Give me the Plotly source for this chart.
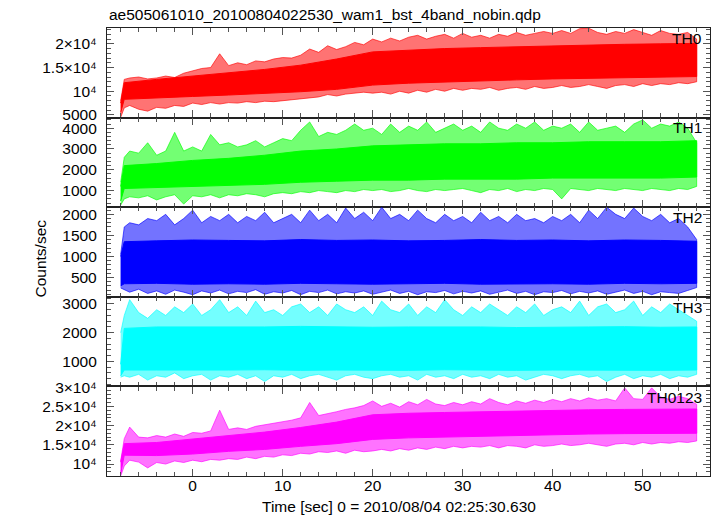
import plotly.graph_objects as go
from plotly.subplots import make_subplots

# ---------------- data ----------------
title = "ae505061010_20100804022530_wam1_bst_4band_nobin.qdp"
band_names = ["TH0", "TH1", "TH2", "TH3", "TH0123"]
band_colors = ["#ff0000", "#00ff00", "#0000ff", "#00ffff", "#ff00ff"]

# sample times (sec) for the dense core of each light curve
t_core = [-8, -7.6, -4, 0, 4, 8, 12, 16, 20, 24, 28, 32, 36, 40, 44, 48, 52, 56]
# sample times (sec) for the spike envelope
t_edge = [-8, -7.6] + list(range(-7, 57))

th0_core_lo = [5500, 8300, 8600, 8900, 9200, 9500, 9900, 10400, 11300, 11700, 12000, 12200, 12400, 12600, 12800, 12900, 13000, 13100]
th0_core_hi = [7500, 11800, 12500, 13200, 13900, 14600, 15500, 16800, 18300, 18700, 19000, 19200, 19400, 19600, 19800, 19900, 20000, 20100]
th0_edge_hi = [8000, 12500, 12800, 13000, 12600, 12800, 13200, 12900, 13800, 14300, 14800, 15000, 17900, 15400, 16000, 15600,
               16400, 16200, 16800, 17100, 17000, 17600, 18900, 18200, 19600, 18800, 19400, 20300, 19800, 21000, 20400, 21200,
               20600, 21400, 21800, 21000, 21600, 22000, 21200, 22200, 21400, 21800, 21200, 22000, 21600, 22400, 21800, 22200,
               22600, 22200, 22800, 22200, 23200, 23300, 22400, 22000, 22600, 22200, 23000, 22400, 21800, 22800, 22200, 22000,
               22400, 21000]
th0_edge_lo = [4500, 6500, 7000, 6200, 5800, 6600, 6400, 7000, 6800, 7500, 7200, 7600, 7300, 7600, 7500, 7800,
               7600, 7900, 7800, 7900, 8200, 8400, 8600, 8800, 9300, 9000, 9400, 9600, 9800, 9600, 9800, 9400,
               10000, 9600, 10200, 9800, 10400, 10000, 10600, 10200, 10600, 10400, 10800, 10200, 10600, 10800, 10400, 11000,
               10600, 10800, 11200, 10800, 11000, 11400, 11000, 10600, 11200, 11400, 11000, 11600, 11200, 11600, 11400, 11800,
               11600, 12000]

th1_core_lo = [500, 1100, 1150, 1200, 1250, 1300, 1400, 1450, 1500, 1500, 1550, 1550, 1550, 1600, 1600, 1600, 1600, 1650]
th1_core_hi = [1200, 2200, 2300, 2450, 2550, 2700, 2900, 3000, 3150, 3200, 3250, 3250, 3300, 3300, 3350, 3350, 3350, 3400]
th1_edge_hi = [1400, 2600, 2900, 2800, 3300, 2700, 2900, 3800, 2900, 3100, 2900, 3700, 3200, 3300, 3100, 3200,
               3400, 3100, 3300, 3500, 3400, 3900, 4300, 3600, 3800, 3700, 3900, 4200, 3900, 4000, 3700, 4200,
               3800, 4100, 3900, 4300, 3800, 4000, 4200, 3900, 4100, 3800, 4300, 4000, 3900, 4200, 4000, 4300,
               3900, 4100, 4000, 4200, 3800, 4300, 3900, 4000, 4100, 3800, 4200, 4400, 4000, 4200, 4100, 4300,
               4000, 3300]
th1_edge_lo = [300, 600, 700, 650, 750, 550, 700, 800, 350, 750, 700, 800, 650, 800, 750, 850,
               800, 700, 850, 900, 850, 950, 900, 1000, 950, 900, 1000, 950, 1050, 1000, 1050, 950,
               1000, 1100, 1000, 950, 1050, 1000, 1050, 1100, 1000, 900, 1050, 1000, 1100, 950, 1050, 1000,
               1100, 1050, 600, 1100, 1050, 1000, 1100, 1050, 1000, 1100, 1050, 1000, 1100, 1050, 1000, 1100,
               1050, 1200]

th2_core_lo = [300, 350, 360, 340, 350, 340, 360, 350, 340, 350, 360, 340, 350, 350, 340, 360, 350, 360]
th2_core_hi = [1000, 1350, 1370, 1390, 1380, 1370, 1400, 1380, 1390, 1370, 1380, 1400, 1380, 1390, 1370, 1390, 1380, 1360]
th2_edge_hi = [1050, 1700, 1800, 1750, 1900, 1850, 2000, 1750, 1900, 2100, 1800, 1950, 1850, 2000, 1800, 1950,
               1850, 2050, 1800, 1900, 2000, 1800, 2100, 1850, 2000, 1800, 2150, 1900, 2050, 1850, 2170, 1900,
               2000, 1850, 2100, 1900, 1800, 2000, 1850, 1950, 1800, 2050, 1850, 1950, 1800, 2000, 1850, 1900,
               1800, 1950, 1850, 2000, 1800, 2100, 1900, 2170, 2000, 1900, 2150, 1950, 1850, 2000, 1800, 1900,
               1700, 1400]
th2_edge_lo = [250, 200, 150, 220, 120, 180, 100, 200, 150, 90, 180, 130, 200, 110, 170, 140,
               210, 100, 160, 130, 190, 90, 170, 140, 200, 110, 160, 130, 180, 100, 150, 200,
               120, 170, 90, 160, 140, 190, 110, 170, 130, 180, 100, 150, 200, 120, 170, 90,
               160, 140, 190, 110, 170, 130, 180, 100, 150, 200, 120, 170, 90, 160, 140, 120,
               190, 260]

th3_core_lo = [500, 700, 700, 690, 700, 710, 690, 700, 700, 690, 710, 700, 690, 700, 710, 700, 690, 700]
th3_core_hi = [900, 2150, 2200, 2200, 2180, 2200, 2220, 2200, 2190, 2200, 2210, 2200, 2180, 2200, 2200, 2210, 2190, 2200]
th3_edge_hi = [2000, 2600, 3150, 2700, 2500, 2800, 2600, 2900, 2700, 3000, 2600, 2800, 3150, 2700, 2900, 2600,
               3100, 2700, 2800, 2600, 2900, 3000, 2700, 2900, 2600, 3000, 2800, 2700, 2900, 2600, 3100, 2800,
               2700, 3000, 2600, 2900, 2700, 3150, 2800, 2600, 2900, 2700, 3000, 2800, 2600, 2900, 2700, 3000,
               2600, 2800, 2900, 2700, 3100, 2600, 2900, 3000, 2700, 2800, 3100, 2600, 2900, 2700, 3000, 2800,
               2600, 2400]
th3_edge_lo = [450, 500, 450, 550, 350, 500, 450, 600, 400, 500, 550, 350, 500, 450, 550, 400,
               500, 300, 500, 450, 550, 400, 500, 550, 450, 350, 500, 550, 450, 400, 500, 550,
               450, 500, 350, 550, 450, 500, 400, 550, 450, 500, 400, 550, 450, 500, 350, 450,
               550, 500, 400, 500, 550, 450, 500, 300, 450, 550, 400, 500, 450, 550, 400, 500,
               450, 550]

th0123_core_lo = [7500, 12300, 12200, 12600, 13300, 13800, 14600, 15300, 16400, 16800, 17000, 17200, 17400, 17600, 17800, 17900, 18000, 18000]
th0123_core_hi = [10500, 15300, 15600, 16500, 17500, 18300, 19500, 20900, 22800, 23200, 23400, 23600, 23800, 23900, 24100, 24200, 24300, 24300]
th0123_edge_hi = [10800, 16600, 19600, 17000, 16800, 17400, 17000, 17800, 17200, 18200, 18000, 18600, 24000, 19000, 19400, 19000,
                  19800, 20200, 20600, 21000, 21400, 22000, 26000, 22600, 23200, 23600, 24200, 24600, 25200, 26400, 25000, 25800,
                  24800, 26200, 25400, 26800, 25600, 25200, 26000, 25400, 26200, 25600, 27000, 26000, 25400, 26400, 25800, 26600,
                  26000, 26800, 26200, 27000, 26400, 27200, 26600, 27000, 26400, 29800, 27000, 26800, 29800, 27400, 26800, 27600,
                  27000, 25500]
th0123_edge_lo = [6900, 9500, 11000, 10500, 9000, 10400, 10000, 10800, 10400, 11000, 10600, 11200, 11000, 11400, 11200, 11800,
                  11400, 12000, 11800, 12400, 12200, 12800, 12600, 13200, 13000, 13400, 12800, 13600, 13200, 13400, 13800, 13400,
                  14000, 13600, 14200, 13800, 14400, 14000, 14600, 14200, 14600, 14400, 14800, 14200, 14800, 14600, 14200, 15000,
                  14600, 14800, 15200, 14800, 15000, 15400, 15000, 14600, 15200, 15400, 15000, 15600, 15200, 15600, 15400, 15800,
                  15600, 16000]

core_lo = [th0_core_lo, th1_core_lo, th2_core_lo, th3_core_lo, th0123_core_lo]
core_hi = [th0_core_hi, th1_core_hi, th2_core_hi, th3_core_hi, th0123_core_hi]
edge_lo = [th0_edge_lo, th1_edge_lo, th2_edge_lo, th3_edge_lo, th0123_edge_lo]
edge_hi = [th0_edge_hi, th1_edge_hi, th2_edge_hi, th3_edge_hi, th0123_edge_hi]

# y-axis ticks of each panel
y_ranges = [[4440, 23340], [200, 4510], [40, 2170], [130, 3250], [6890, 30180]]
y_tickvals = [[5000, 10000, 15000, 20000], [1000, 2000, 3000, 4000], [500, 1000, 1500, 2000],
              [1000, 2000, 3000], [10000, 15000, 20000, 25000, 30000]]
y_ticktext = [["5000", "10⁴", "1.5×10⁴", "2×10⁴"], ["1000", "2000", "3000", "4000"],
              ["500", "1000", "1500", "2000"], ["1000", "2000", "3000"],
              ["10⁴", "1.5×10⁴", "2×10⁴", "2.5×10⁴", "3×10⁴"]]
y_minor = [1000, 200, 100, 200, 1000]

x_range = [-9.52, 57.48]
x_title = "Time [sec] 0 = 2010/08/04 02:25:30.630"
y_title = "Counts/sec"


def rgba(hex_color, a):
    h = hex_color.lstrip("#")
    return "rgba(%d,%d,%d,%.2f)" % (int(h[0:2], 16), int(h[2:4], 16), int(h[4:6], 16), a)


FONT = "Liberation Sans, Arial, Helvetica, sans-serif"
FS = 15.5
FRAME = "#222222"
TICKC = "#555555"

fig = make_subplots(rows=5, cols=1, shared_xaxes=True, vertical_spacing=0)

for i in range(5):
    row = i + 1
    c = band_colors[i]
    # outer spike envelope (lighter halo)
    fig.add_trace(go.Scatter(
        x=t_edge + t_edge[::-1], y=edge_hi[i] + edge_lo[i][::-1],
        fill="toself", fillcolor=rgba(c, 0.55), mode="lines",
        line=dict(color=rgba(c, 0.8), width=0.8), hoverinfo="skip", showlegend=False),
        row=row, col=1)
    # dense core
    fig.add_trace(go.Scatter(
        x=t_core + t_core[::-1], y=core_hi[i] + core_lo[i][::-1],
        fill="toself", fillcolor=c, mode="lines",
        line=dict(color=c, width=1), hoverinfo="skip", showlegend=False),
        row=row, col=1)

    fig.update_xaxes(
        range=x_range, showline=True, linecolor=FRAME, linewidth=1.3, mirror="ticks",
        ticks="inside", ticklen=7, tickwidth=1.3, tickcolor=TICKC, tick0=0, dtick=10,
        minor=dict(tickmode="linear", tick0=0, dtick=2, ticks="inside", ticklen=4, tickcolor=TICKC, tickwidth=1),
        showgrid=False, zeroline=False, showticklabels=(row == 5),
        tickfont=dict(family=FONT, size=FS, color="black"), ticklabelstandoff=-5,
        row=row, col=1)
    fig.update_yaxes(
        range=y_ranges[i], showline=True, linecolor=FRAME, linewidth=1.3, mirror="ticks",
        ticks="inside", ticklen=7, tickwidth=1.3, tickcolor=TICKC,
        tickmode="array", tickvals=y_tickvals[i], ticktext=y_ticktext[i],
        minor=dict(tickmode="linear", tick0=0, dtick=y_minor[i], ticks="inside", ticklen=4, tickcolor=TICKC, tickwidth=1),
        showgrid=False, zeroline=False,
        tickfont=dict(family=FONT, size=FS, color="black"), ticklabelstandoff=6,
        row=row, col=1)

L, R, T, B = 107, 7, 28, 40
W, H = 717, 516
pw, ph = W - L - R, H - T - B


def px(x):
    return (x - L) / pw


def py(y):
    return (H - B - y) / ph


ann = []
ann.append(dict(text=title, x=px(107), y=py(15), xref="paper", yref="paper",
                xanchor="left", yanchor="middle", showarrow=False,
                font=dict(family=FONT, size=FS, color="black")))
label_y = [38.5, 127, 217, 307, 397]
for i in range(5):
    ann.append(dict(text=band_names[i], x=px(704), y=py(label_y[i]), xref="paper", yref="paper",
                    xanchor="right", yanchor="middle", showarrow=False,
                    font=dict(family=FONT, size=FS, color="black")))
ann.append(dict(text=y_title, x=px(40), y=py(258.5), xref="paper", yref="paper", textangle=-90,
                xanchor="center", yanchor="middle", showarrow=False,
                font=dict(family=FONT, size=FS, color="black")))
ann.append(dict(text=x_title, x=px(398.5), y=py(506), xref="paper", yref="paper",
                xanchor="center", yanchor="middle", showarrow=False,
                font=dict(family=FONT, size=FS, color="black")))

fig.update_layout(
    width=W, height=H, margin=dict(l=L, r=R, t=T, b=B, pad=0, autoexpand=False),
    paper_bgcolor="white", plot_bgcolor="white",
    annotations=ann, showlegend=False,
    font=dict(family=FONT, size=FS, color="black"),
)

fig.write_html(
    "out.html",
    config={"displayModeBar": False},
    post_script="document.body.style.margin='0px';document.body.style.padding='0px';"
                "document.documentElement.style.overflow='hidden';",
)
